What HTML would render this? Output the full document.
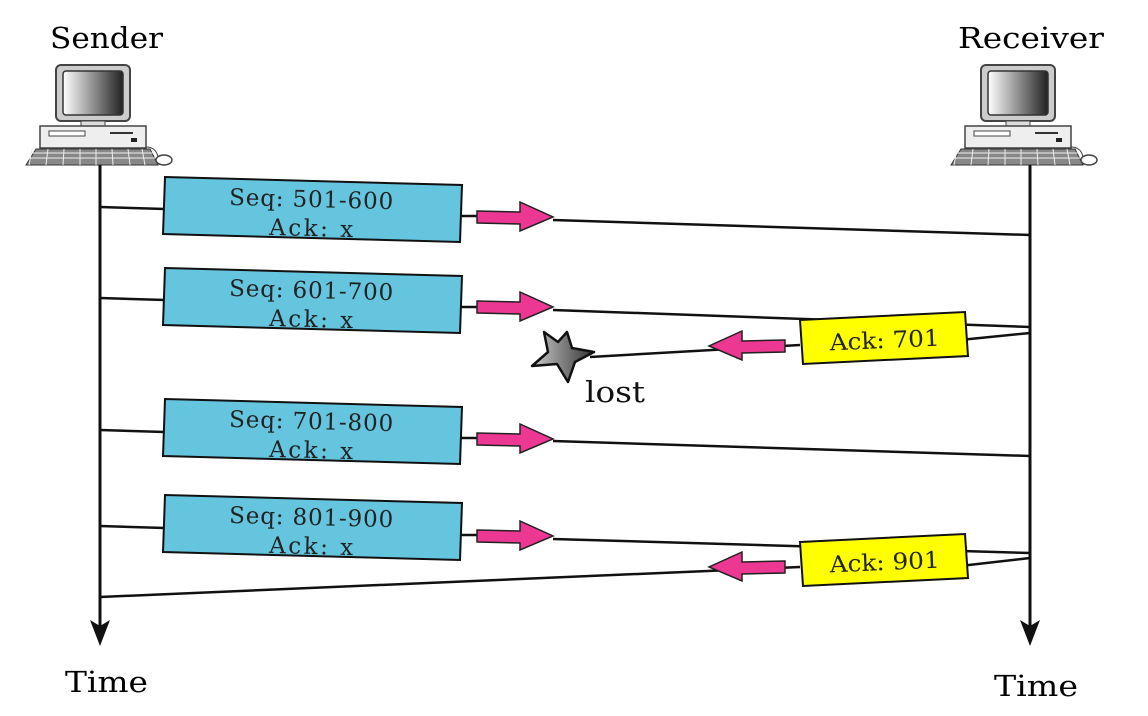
<!DOCTYPE html>
<html><head><style>body{margin:0;background:#fff}svg{display:block}</style></head><body>
<svg width="1148" height="716" viewBox="0 0 1148 716" xmlns="http://www.w3.org/2000/svg" font-family="'DejaVu Serif','Liberation Serif',serif">
<defs>
<linearGradient id="scr" x1="0" x2="1"><stop offset="0" stop-color="#fff"/><stop offset="1" stop-color="#222"/></linearGradient>
<linearGradient id="st" x1="0" x2="1"><stop offset="0" stop-color="#ccc"/><stop offset="1" stop-color="#333"/></linearGradient>
<g id="pc">
<rect x="38" y="15" width="74" height="56" rx="5" fill="#ccc" stroke="#444" stroke-width="2"/>
<rect x="45" y="21" width="60" height="44" rx="3" fill="url(#scr)" stroke="#333" stroke-width="1.5"/>
<rect x="63" y="71" width="24" height="5" fill="#ddd" stroke="#444"/>
<rect x="22" y="76" width="106" height="22" fill="#eee" stroke="#444" stroke-width="1.5"/>
<rect x="31" y="81" width="36" height="5" fill="#fff" stroke="#444"/>
<line x1="92" y1="83" x2="115" y2="83" stroke="#333" stroke-width="2"/>
<rect x="113" y="88" width="6" height="4" fill="#222"/>
<polygon points="18,99 132,99 140,115 8,115" fill="#888" stroke="#333"/>
<path d="M12,103h124M10,108h128M14,99l-3,16M30,99l-2,16M46,99l-1,16M62,99v16M78,99v16M94,99l1,16M110,99l2,16M124,99l3,16" stroke="#eee" stroke-width="1" fill="none"/>
<path d="M128,97 q10,0 12,10" fill="none" stroke="#444"/>
<ellipse cx="146" cy="110" rx="8" ry="5" fill="#fff" stroke="#444" stroke-width="1.5"/>
</g>
<g id="ra"><polygon points="0,-6 43,-5 43,-15 76,0 43,14 43,7 0,6" fill="#ec3893" stroke="#222" stroke-width="1.5"/></g>
<g id="la"><polygon points="0,-6 -43,-5 -43,-15 -76,0 -43,14 -43,7 0,6" fill="#ec3893" stroke="#222" stroke-width="1.5"/></g>
</defs>
<text x="50" y="48" font-size="29" textLength="113" lengthAdjust="spacingAndGlyphs">Sender</text>
<text x="958" y="48" font-size="29" textLength="146" lengthAdjust="spacingAndGlyphs">Receiver</text>
<use href="#pc" x="18" y="50"/>
<use href="#pc" x="943" y="50"/>
<g stroke="#111" stroke-width="3" fill="none">
<line x1="100" y1="165" x2="100" y2="630"/>
<line x1="1030" y1="165" x2="1030" y2="630"/>
</g>
<polygon points="90,620 100,646 110,620 100,626" fill="#111"/>
<polygon points="1020,620 1030,646 1040,620 1030,626" fill="#111"/>
<g stroke="#111" stroke-width="2.5" fill="none">
<line x1="100" y1="207" x2="165" y2="209"/><line x1="553" y1="220" x2="1030" y2="235"/><line x1="460" y1="216" x2="478" y2="216"/>
<line x1="100" y1="298" x2="165" y2="300"/><line x1="553" y1="310" x2="1030" y2="327"/><line x1="460" y1="307" x2="478" y2="307"/>
<line x1="100" y1="430" x2="165" y2="432"/><line x1="553" y1="441" x2="1030" y2="456"/><line x1="460" y1="438" x2="478" y2="438"/>
<line x1="100" y1="526" x2="165" y2="528"/><line x1="553" y1="539" x2="1030" y2="553"/><line x1="460" y1="535" x2="478" y2="535"/>
<line x1="1030" y1="333" x2="960" y2="340"/><line x1="800" y1="345" x2="590" y2="357"/>
<line x1="1030" y1="558" x2="960" y2="566"/><line x1="800" y1="567" x2="100" y2="597"/>
</g>
<g fill="#65c4de" stroke="#111" stroke-width="2">
<polygon points="165,177 462,185 460,242 163,234"/>
<polygon points="165,268 462,276 460,333 163,325"/>
<polygon points="165,399 462,407 460,464 163,456"/>
<polygon points="165,495 462,503 460,560 163,552"/>
</g>
<g font-size="23" fill="#222" text-anchor="middle" lengthAdjust="spacingAndGlyphs">
<text x="311" y="207" textLength="164" transform="rotate(1.5 311 207)">Seq: 501-600</text><text x="311" y="236" textLength="84" transform="rotate(1.5 311 236)">Ack: x</text>
<text x="311" y="298" textLength="164" transform="rotate(1.5 311 298)">Seq: 601-700</text><text x="311" y="327" textLength="84" transform="rotate(1.5 311 327)">Ack: x</text>
<text x="311" y="429" textLength="164" transform="rotate(1.5 311 429)">Seq: 701-800</text><text x="311" y="458" textLength="84" transform="rotate(1.5 311 458)">Ack: x</text>
<text x="311" y="525" textLength="164" transform="rotate(1.5 311 525)">Seq: 801-900</text><text x="311" y="554" textLength="84" transform="rotate(1.5 311 554)">Ack: x</text>
</g>
<use href="#ra" x="477" y="217"/>
<use href="#ra" x="477" y="307"/>
<use href="#ra" x="477" y="439"/>
<use href="#ra" x="477" y="536"/>
<use href="#la" x="785" y="346"/>
<use href="#la" x="785" y="567"/>
<g fill="#ffff00" stroke="#111" stroke-width="2">
<polygon points="800,320 965,312 968,356 803,364"/>
<polygon points="800,542 965,534 968,578 803,586"/>
</g>
<text x="885" y="348" font-size="23" text-anchor="middle" fill="#222" textLength="110" lengthAdjust="spacingAndGlyphs" transform="rotate(-2.5 885 348)">Ack: 701</text>
<text x="885" y="570" font-size="23" text-anchor="middle" fill="#222" textLength="110" lengthAdjust="spacingAndGlyphs" transform="rotate(-2.5 885 570)">Ack: 901</text>
<polygon points="567,332 572,348 594,352 575,362 568,382 557,364 532,366 548,352 544,332 558,342" fill="url(#st)" stroke="#111" stroke-width="2.5" stroke-linejoin="round"/>
<text x="585" y="402" font-size="29" fill="#111" textLength="60" lengthAdjust="spacingAndGlyphs">lost</text>
<text x="65" y="692" font-size="29" textLength="83" lengthAdjust="spacingAndGlyphs">Time</text>
<text x="994" y="696" font-size="29" textLength="84" lengthAdjust="spacingAndGlyphs">Time</text>
</svg>
</body></html>
